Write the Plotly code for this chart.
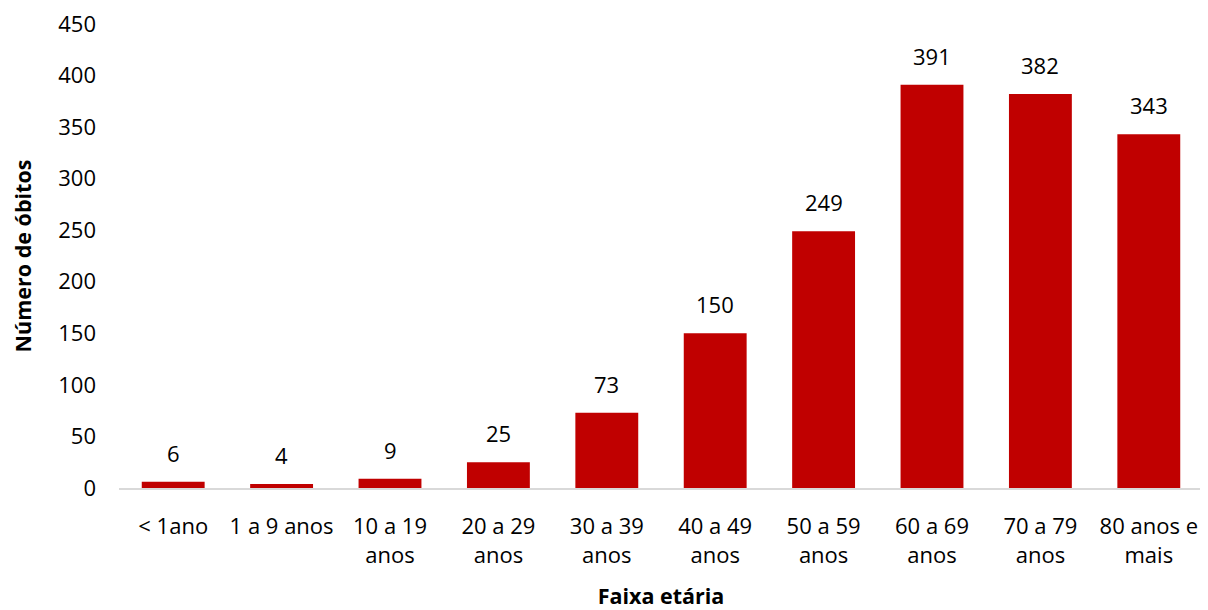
import plotly.graph_objects as go

categories = ["< 1ano", "1 a 9 anos", "10 a 19<br>anos", "20 a 29<br>anos", "30 a 39<br>anos",
              "40 a 49<br>anos", "50 a 59<br>anos", "60 a 69<br>anos", "70 a 79<br>anos", "80 anos e<br>mais"]
values = [6, 4, 9, 25, 73, 150, 249, 391, 382, 343]
y_ticks = [0, 50, 100, 150, 200, 250, 300, 350, 400, 450]

FONT = "'Open Sans', sans-serif"
fig = go.Figure(go.Bar(x=categories, y=values, marker_color="#C00000", marker_line_width=0))

for c, v in zip(categories, values):
    fig.add_annotation(x=c, y=v, text=str(v), showarrow=False, yanchor="bottom", yshift=12,
                       font=dict(size=22, color="#000000", family=FONT))

fig.update_layout(
    width=1200, height=602,
    margin=dict(l=111, r=5, t=16, b=122),
    paper_bgcolor="white", plot_bgcolor="white",
    bargap=0.42, showlegend=False,
    font=dict(family=FONT, size=22, color="#000000"),
)
fig.update_xaxes(showline=True, linecolor="#D9D9D9", linewidth=2, ticks="", showgrid=False,
                 automargin=False, tickfont=dict(size=22), ticklabelstandoff=18,
                 title=dict(text="<b>Faixa etária</b>", font=dict(size=21.5), standoff=26))
fig.update_yaxes(range=[0, 450], tickvals=y_ticks, showgrid=False, zeroline=False, showline=False,
                 automargin=False, ticks="", tickfont=dict(size=22), ticklabelstandoff=22,
                 ticklabeloverflow="allow",
                 title=dict(text="<b>Número de óbitos</b>", font=dict(size=21.5), standoff=22))
fig.write_html("out.html")
